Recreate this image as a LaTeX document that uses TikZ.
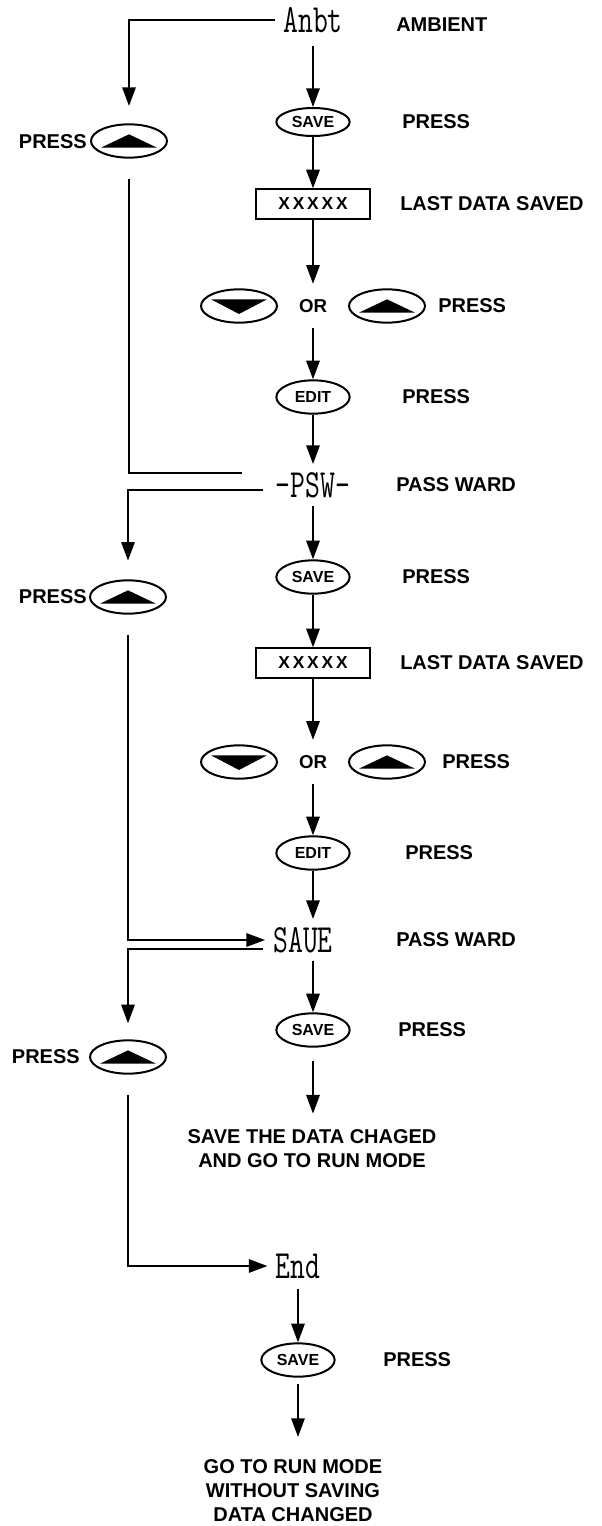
\documentclass[tikz,border=0pt]{standalone}
\usepackage{fontspec}
\setmainfont{Liberation Sans}
\usepackage{graphicx}
\usetikzlibrary{arrows.meta, positioning, shapes.geometric}

\newcommand{\lcdtext}[1]{\scalebox{0.72}[1]{#1}}

\begin{document}
\begin{tikzpicture}[
  x=0.75pt, y=-0.75pt,
  lbl/.style={font=\bfseries\fontsize{15}{18}\selectfont, inner sep=0pt},
  lcd/.style={font=\ttfamily\fontsize{30}{30}\selectfont, inner sep=6pt},
  key/.style={ellipse, draw, line width=1.5pt, minimum width=55pt, minimum height=25pt, inner sep=0pt, font=\bfseries\fontsize{12}{12}\selectfont},
  btn/.style={key, minimum width=57pt},
  upkey/.style={btn, path picture={\fill ([xshift=-21pt,yshift=-5pt]path picture bounding box.center) -- ++(42pt,0pt) -- ++(-21pt,10pt) -- cycle;}},
  downkey/.style={btn, path picture={\fill ([xshift=-21pt,yshift=5pt]path picture bounding box.center) -- ++(42pt,0pt) -- ++(-21pt,-11pt) -- cycle;}},
  databox/.style={rectangle, draw, line width=1.5pt, minimum width=85pt, minimum height=22pt, inner sep=0pt, font=\bfseries\fontsize{13}{13}\selectfont},
  conn/.style={draw, line width=1.5pt},
  flow/.style={conn, -{Triangle[length=14pt, width=10pt]}}
]
\useasboundingbox (0,0) rectangle (601,1526);

% ambient
\node[lcd] (anbt) at (313,20) {\lcdtext{Anbt}};
\node[lbl, anchor=west] (ambient) at (396,25) {AMBIENT};
\node[key, minimum height=21pt] (saveA) at (313,122) {SAVE};
\node[lbl, anchor=west] (pressSaveA) at (402,122) {PRESS};
\node[upkey] (upA) at (129,141) {};
\node[lbl, anchor=east] (pressUpA) at (87,142) {PRESS};
\node[databox] (dataA) at (313,204) {X\,X\,X\,X\,X};
\node[lbl, anchor=west] (lastA) at (400,204) {LAST DATA SAVED};
\node[downkey] (downA) at (239,306) {};
\node[lbl, font=\bfseries\fontsize{14}{14}\selectfont, minimum height=33pt] (orA) at (313,306) {OR};
\node[upkey] (upOrA) at (387,306) {};
\node[lbl, anchor=west] (pressOrA) at (438,306) {PRESS};
\node[key] (editA) at (313,397) {EDIT};
\node[lbl, anchor=west] (pressEditA) at (402,397) {PRESS};

% password
\node[lcd] (psw) at (313,485) {\lcdtext{-PSW-}};
\node[lbl, anchor=west] (passA) at (396,485) {PASS WARD};
\node[key] (saveB) at (313,577) {SAVE};
\node[lbl, anchor=west] (pressSaveB) at (402,577) {PRESS};
\node[upkey] (upB) at (128,597) {};
\node[lbl, anchor=east] (pressUpB) at (87,597) {PRESS};
\node[databox] (dataB) at (313,663) {X\,X\,X\,X\,X};
\node[lbl, anchor=west] (lastB) at (400,663) {LAST DATA SAVED};
\node[downkey] (downB) at (239,762) {};
\node[lbl, font=\bfseries\fontsize{14}{14}\selectfont, minimum height=33pt] (orB) at (313,762) {OR};
\node[upkey] (upOrB) at (387,762) {};
\node[lbl, anchor=west] (pressOrB) at (442,762) {PRESS};
\node[key] (editB) at (313,853) {EDIT};
\node[lbl, anchor=west] (pressEditB) at (405,853) {PRESS};

% save
\node[lcd] (saue) at (303,940) {\lcdtext{SAUE}};
\node[lbl, anchor=west] (passB) at (396,940) {PASS WARD};
\node[key] (saveC) at (313,1030) {SAVE};
\node[lbl, anchor=west] (pressSaveC) at (398,1030) {PRESS};
\node[upkey] (upC) at (128,1057) {};
\node[lbl, anchor=east] (pressUpC) at (80,1057) {PRESS};
\node[lbl, align=center] (msgA) at (312,1149) {SAVE THE DATA CHAGED\\AND GO TO RUN MODE};

% end
\node[lcd] (endd) at (298,1266) {\lcdtext{End}};
\node[key] (saveD) at (298,1360) {SAVE};
\node[lbl, anchor=west] (pressSaveD) at (383,1360) {PRESS};
\node[lbl, align=center] (msgB) at (293,1491) {GO TO RUN MODE\\WITHOUT SAVING\\DATA CHANGED};

\coordinate (endA) at (242,473);
\coordinate (startB) at (263,490);
\coordinate (startC) at (263,949);

% main column
\draw[flow, shorten <=4pt] (anbt) -- (saveA);
\draw[flow] (saveA) -- (dataA);
\draw[flow] (dataA) -- (orA);
\draw[flow] (orA) -- (editA);
\draw[flow] (editA) -- (psw);
\draw[flow] (psw) -- (saveB);
\draw[flow] (saveB) -- (dataB);
\draw[flow] (dataB) -- (orB);
\draw[flow] (orB) -- (editB);
\draw[flow] (editB.south) -- (editB |- saue.north);
\draw[flow] (editB |- saue.south) -- (saveC.north);
\draw[flow, shorten <=10pt, shorten >=12pt] (saveC.south) -- (saveC |- msgA.north);
\draw[flow, shorten <=2pt] (endd) -- (saveD);
\draw[flow, shorten <=5pt, shorten >=17pt] (saveD.south) -- (saveD |- msgB.north);

% side loops
\draw[flow, shorten >=13pt] (anbt.west) -| (upA.north);
\draw[conn, shorten <=15pt] (upA.south) |- (endA);
\draw[flow, shorten >=14pt] (startB) -| (upB.north);
\draw[flow, shorten <=15pt] (upB.south) |- (saue.west);
\draw[flow, shorten >=12pt] (startC) -| (upC.north);
\draw[flow, shorten <=15pt] (upC.south) |- (endd.west);

\end{tikzpicture}
\end{document}
